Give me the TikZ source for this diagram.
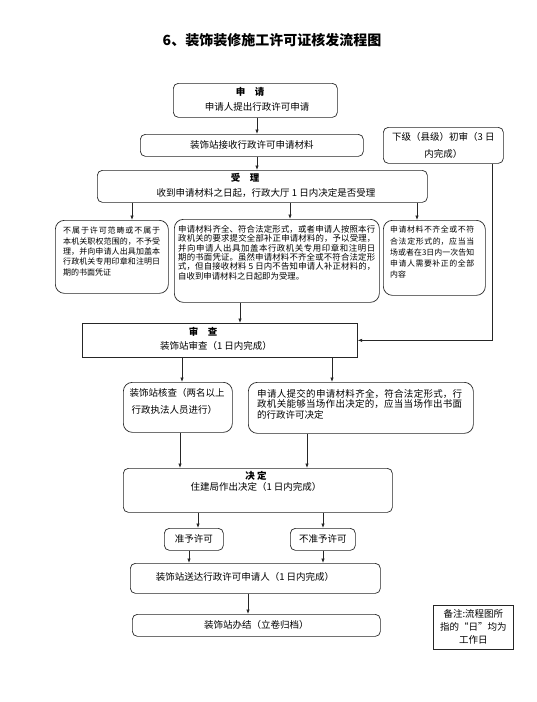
\documentclass[tikz,border=0pt]{standalone}
\usepackage{fontspec}
\setmainfont{Noto Sans CJK SC}
\XeTeXlinebreaklocale "zh"
\XeTeXlinebreakskip=0pt plus 1pt
\usetikzlibrary{arrows.meta,calc}
\begin{document}
\begin{tikzpicture}[x=1pt,y=-1pt,
  box/.style={draw=black!85, line width=0.7pt, rounded corners=5pt, anchor=north west, inner sep=0pt, align=center, font=\fontsize{9.5}{15}\selectfont},
  sqbox/.style={box, rounded corners=0pt},
  rbox/.style={box, rounded corners=9pt},
  para/.style={inner sep=0pt, anchor=north west, align=justify},
  lab/.style={inner sep=0pt, font=\fontsize{9.5}{12}\selectfont},
  arr/.style={draw=black!85, line width=0.7pt, -{Latex[length=4.5pt,width=3.5pt]}},
  ln/.style={draw=black!85, line width=0.7pt}]
\useasboundingbox (0,0) rectangle (536,702);
% x positions of connectors
\foreach \n/\v in {a257/257, a132/132, a290/290, a417/417, a240/240, a492/492, a182/182, a332/332, a180/180, a307/307, a198/198, a323/323, a189/189, a248/248}
  \coordinate (\n) at (\v,0);
\node[font=\fontsize{14}{16}\selectfont\bfseries] (title) at (272,40) {6、装饰装修施工许可证核发流程图};
% boxes
\node[box, minimum width=164pt, minimum height=34pt] (sq) at (173,83) {};
\node[lab, font=\fontsize{9.5}{12}\selectfont\bfseries] (sqt) at (250,92) {申\quad 请};
\node[lab] (sqs) at (257,107) {申请人提出行政许可申请};
\node[box, minimum width=223pt, minimum height=22pt] (js) at (140,134) {装饰站接收行政许可申请材料};
\node[box, minimum width=120pt, minimum height=36pt, font=\fontsize{9.5}{17}\selectfont] (xj) at (383,127) {下级（县级）初审（3 日\\内完成）};
\node[box, minimum width=330pt, minimum height=32pt] (sl) at (97,170) {};
\node[lab, font=\fontsize{9.5}{12}\selectfont\bfseries] (slt) at (245,178) {受\quad 理};
\node[lab] (sls) at (266,193) {收到申请材料之日起，行政大厅 1 日内决定是否受理};
% three branch boxes
\node[rbox, minimum width=113pt, minimum height=73pt] (lb) at (55,220) {};
\node[para, text width=97pt, font=\fontsize{8}{10.3}\selectfont] (lbt) at (63,227) {不属于许可范畴或不属于本机关职权范围的，不予受理，并向申请人出具加盖本行政机关专用印章和注明日期的书面凭证};
\node[rbox, minimum width=205pt, minimum height=83pt] (mb) at (174,219) {};
\node[para, text width=197pt, font=\fontsize{8.4}{9.4}\selectfont] (mbt) at (178,225) {申请材料齐全、符合法定形式，或者申请人按照本行政机关的要求提交全部补正申请材料的，予以受理，并向申请人出具加盖本行政机关专用印章和注明日期的书面凭证。虽然申请材料不齐全或不符合法定形式，但自接收材料 5 日内不告知申请人补正材料的，自收到申请材料之日起即为受理。};
\node[rbox, minimum width=102pt, minimum height=75pt] (rb) at (383,220) {};
\node[para, text width=84pt, font=\fontsize{7.9}{11.2}\selectfont] (rbt) at (390,226) {申请材料不齐全或不符合法定形式的，应当当场或者在3日内一次告知申请人需要补正的全部内容};
% review
\node[sqbox, minimum width=275pt, minimum height=34pt] (sc) at (82,323) {};
\node[lab, font=\fontsize{9.5}{12}\selectfont\bfseries] (sct) at (203,332) {审\quad 查};
\node[lab] (scs) at (216,346) {装饰站审查（1 日内完成）};
\node[rbox, minimum width=109pt, minimum height=50pt] (hc) at (123,382) {};
\node[inner sep=0pt, align=left, font=\fontsize{9.5}{17}\selectfont] (hct) at (177,401) {装饰站核查（两名以上\\\ 行政执法人员进行）};
\node[rbox, minimum width=225pt, minimum height=51pt] (tj) at (248,382) {};
\node[para, text width=205pt, font=\fontsize{9.5}{10.4}\selectfont] (tjt) at (257,389) {申请人提交的申请材料齐全，符合法定形式，行政机关能够当场作出决定的，应当当场作出书面的行政许可决定};
% decision
\node[box, minimum width=269pt, minimum height=44pt] (jd) at (123,468) {};
\node[inner sep=0pt, align=center, font=\fontsize{9.5}{11.5}\selectfont] (jdt) at (256,481.5) {\textbf{决\ 定}\\住建局作出决定（1 日内完成）};
\node[box, minimum width=59pt, minimum height=22pt] (zy) at (164,528) {准予许可};
\node[box, minimum width=65pt, minimum height=22pt] (bz) at (290,528) {不准予许可};
\node[box, minimum width=250pt, minimum height=30pt] (sd) at (130,563) {};
\node[lab] (sdt) at (245,577) {装饰站送达行政许可申请人（1 日内完成）};
\node[box, minimum width=248pt, minimum height=22pt] (bj) at (132,614) {装饰站办结（立卷归档）};
\node[sqbox, minimum width=80pt, minimum height=44pt, font=\fontsize{9.5}{13}\selectfont] (bz2) at (433,605) {备注:流程图所\\指的“日”均为\\工作日};
% connectors
\draw[arr] (sq.south -| a257) -- (js.north -| a257);
\draw[arr] (js.south -| a257) -- (sl.north -| a257);
\draw[arr] (sl.south -| a132) -- (lb.north -| a132);
\draw[arr] (sl.south -| a290) -- (mb.north -| a290);
\draw[arr] (sl.south -| a417) -- (rb.north -| a417);
\draw[arr] (mb.south -| a240) -- (sc.north -| a240);
\draw[arr] (xj.south -| a492) |- (sc.east);
\draw[arr] (sc.south -| a182) -- (hc.north -| a182);
\draw[arr] (sc.south -| a332) -- (tj.north -| a332);
\draw[arr] (hc.south -| a180) -- (jd.north -| a180);
\draw[arr] (tj.south -| a307) -- (jd.north -| a307);
\draw[arr] (jd.south -| a198) -- (zy.north -| a198);
\draw[arr] (jd.south -| a323) -- (bz.north -| a323);
\draw[arr] (zy.south -| a189) -- (sd.north -| a189);
\draw[arr] (bz.south -| a323) -- (sd.north -| a323);
\draw[arr] (sd.south -| a248) -- (bj.north -| a248);
\end{tikzpicture}
\end{document}
